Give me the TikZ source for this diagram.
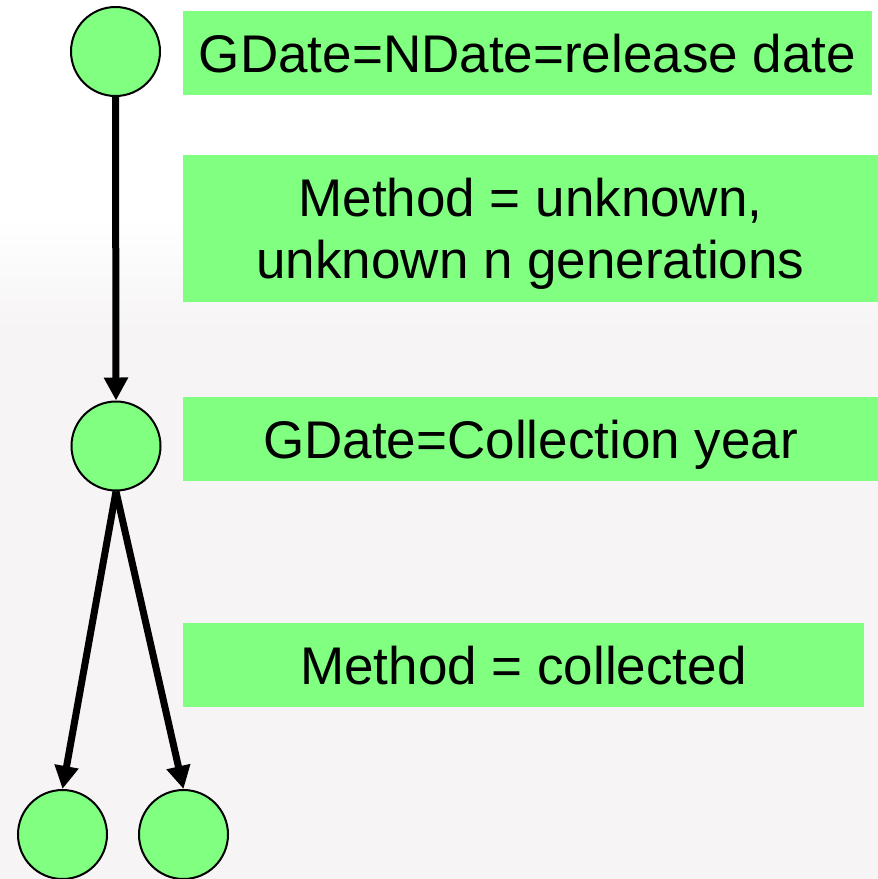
\documentclass[tikz,border=0pt]{standalone}
\usepackage{fontspec}
\setmainfont{Liberation Sans}
\usetikzlibrary{arrows.meta}

\definecolor{nodegreen}{HTML}{80FF80}
\definecolor{haze}{HTML}{F6F4F4}

\tikzset{
  gen/.style={circle, draw=black, line width=1pt, fill=nodegreen,
    minimum size=44.5pt, inner sep=0pt},
  note/.style={rectangle, fill=nodegreen, inner sep=0pt, align=center,
    font=\fontsize{26.5}{31}\selectfont, text height=19pt, text depth=0pt},
  link/.style={line width=3.5pt, -{Triangle[width=11.5pt,length=11.5pt]}}
}

\begin{document}
\begin{tikzpicture}[x=0.5pt, y=-0.5pt]
\useasboundingbox (0,0) rectangle (878,879);
\clip (0,0) rectangle (878,879);

% faint backdrop
\fill[white] (0,0) rectangle (878,879);
\shade[top color=white, bottom color=haze] (0,220) rectangle (878,330);
\fill[haze] (0,330) rectangle (878,879);

% generations
\node[gen] (g1) at (115.5,51.5) {};
\node[gen] (g2) at (116,446) {};
\node[gen] (g3) at (62.5,834.5) {};
\node[gen] (g4) at (183.5,834.5) {};

% notes
\node[note, minimum width=344.5pt, minimum height=42pt] (release) at (527.5,53) {GDate=NDate=release date};
\node[note, minimum width=347.5pt, minimum height=73.5pt, text height=50pt] (unknown) at (530.5,228.5) {Method = unknown,\\unknown n generations};
\node[note, minimum width=347.5pt, minimum height=42pt] (year) at (530.5,439) {GDate=Collection year};
\node[note, minimum width=340.5pt, minimum height=42pt] (collected) at (523.5,665) {Method = collected};

\draw[link] (g1.south) -- (g2.north);
\draw[link] (g2.south) -- (g3.north);
\draw[link] (g2.south) -- (g4.north);

\end{tikzpicture}
\end{document}
